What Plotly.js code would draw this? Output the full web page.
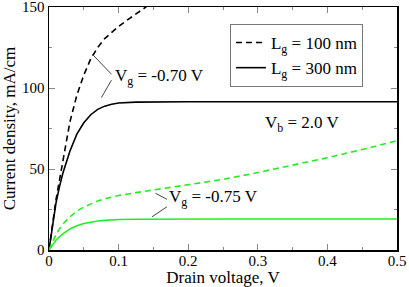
<!DOCTYPE html>
<html>
<head>
<meta charset="utf-8">
<script src="https://cdn.plot.ly/plotly-3.0.1.min.js"></script>
<style>html,body{margin:0;padding:0;background:#fff;}#chart{width:409px;height:287px;}</style>
</head>
<body>
<div id="chart"></div>
<script>
// Drain voltage sample points (V)
var drainV = [0, 0.005, 0.01, 0.015, 0.02, 0.03, 0.04, 0.05, 0.06, 0.07, 0.08, 0.09, 0.1, 0.125, 0.15, 0.175, 0.2, 0.25, 0.3, 0.35, 0.4, 0.45, 0.5];
var drainVShort = [0, 0.005, 0.01, 0.015, 0.02, 0.03, 0.04, 0.05, 0.06, 0.07, 0.08, 0.09, 0.1, 0.11, 0.12, 0.13, 0.14];
// Current density (mA/cm)
var lg300_vg070 = [0, 15, 29, 39, 47.5, 61, 71.5, 78.5, 83.5, 86.8, 88.8, 90, 90.7, 91.3, 91.5, 91.5, 91.5, 91.5, 91.5, 91.5, 91.5, 91.5, 91.5];
var lg100_vg070 = [0, 16, 31, 43, 55, 79, 95.5, 108, 118, 125, 130.5, 134.5, 138, 141.2, 144.3, 147.3, 150.2];
var lg100_vg075 = [0, 5, 9.5, 13, 16, 20.5, 24, 26.5, 28.5, 30.2, 31.6, 32.7, 33.6, 35.4, 37, 38.5, 40, 43.6, 47.8, 52.3, 57, 62, 67.5];
var lg300_vg075 = [0, 3.2, 6, 8.2, 10, 13, 15, 16.4, 17.3, 17.9, 18.3, 18.6, 18.8, 19, 19.1, 19.1, 19.1, 19.1, 19.1, 19.1, 19.1, 19.1, 19.1];

var xTickVals = [0, 0.1, 0.2, 0.3, 0.4, 0.5];
var xTickText = ["0", "0.1", "0.2", "0.3", "0.4", "0.5"];
var yTickVals = [0, 50, 100, 150];
var yTickText = ["0", "50", "100", "150"];

var legendNames = ["L<sub>g</sub> = 100 nm", "L<sub>g</sub> = 300 nm"];
var xTitle = "Drain voltage, V";
var yTitle = "Current density, mA/cm";
var labelVg070 = "V<sub>g</sub> = -0.70 V";
var labelVb = "V<sub>b</sub> = 2.0 V";
var labelVg075 = "V<sub>g</sub> = -0.75 V";

var serif = "Liberation Serif";
var GREEN = "#22ee22";
var DASH = "6px,4px";

var traces = [
  {x: drainVShort, y: lg100_vg070, mode: "lines", name: legendNames[0],
   line: {color: "black", width: 1.6, dash: DASH}},
  {x: drainV, y: lg300_vg070, mode: "lines", name: legendNames[1],
   line: {color: "black", width: 1.6}},
  {x: drainV, y: lg100_vg075, mode: "lines", showlegend: false,
   line: {color: GREEN, width: 1.6, dash: DASH}},
  {x: drainV, y: lg300_vg075, mode: "lines", showlegend: false,
   line: {color: GREEN, width: 1.6}}
];

var layout = {
  width: 409, height: 287,
  margin: {l: 49, r: 12, t: 7, b: 37},
  paper_bgcolor: "white", plot_bgcolor: "white",
  font: {family: serif, size: 15, color: "black"},
  xaxis: {
    range: [0, 0.5], tickmode: "array", tickvals: xTickVals, ticktext: xTickText,
    showgrid: false, zeroline: false, showline: true, linecolor: "black", linewidth: 1.5,
    mirror: "allticks", ticks: "inside", ticklen: 6, tickcolor: "#888", tickwidth: 1,
    ticklabeloverflow: "allow", ticklabelstandoff: -4,
    tickfont: {family: serif, size: 15, color: "black"},
    minor: {dtick: 0.05, tick0: 0, ticks: "inside", ticklen: 3, tickcolor: "#888"},
    title: {text: xTitle, font: {family: serif, size: 17, color: "black"}}
  },
  yaxis: {
    range: [0, 150], tickmode: "array", tickvals: yTickVals, ticktext: yTickText,
    showgrid: false, zeroline: false, showline: true, linecolor: "black", linewidth: 1.5,
    mirror: "allticks", ticks: "inside", ticklen: 6, tickcolor: "#888", tickwidth: 1,
    ticklabeloverflow: "allow",
    tickfont: {family: serif, size: 15, color: "black"},
    minor: {dtick: 25, tick0: 0, ticks: "inside", ticklen: 3, tickcolor: "#888"},
    title: {text: yTitle, font: {family: serif, size: 17, color: "black"}}
  },
  showlegend: true,
  legend: {x: 0.52, y: 0.93, xanchor: "left", yanchor: "top",
    bordercolor: "#777", borderwidth: 1, bgcolor: "white",
    itemwidth: 30, font: {family: serif, size: 17, color: "black"}, tracegroupgap: 0},
  annotations: [
    {x: 0.0915, y: 106.7, xref: "x", yref: "y", xanchor: "left", yanchor: "middle", showarrow: false,
     text: labelVg070, font: {family: serif, size: 17, color: "black"}},
    {x: 0.307, y: 77.7, xref: "x", yref: "y", xanchor: "left", yanchor: "middle", showarrow: false,
     text: labelVb, font: {family: serif, size: 17, color: "black"}},
    {x: 0.169, y: 32, xref: "x", yref: "y", xanchor: "left", yanchor: "middle", showarrow: false,
     text: labelVg075, font: {family: serif, size: 17, color: "black"}}
  ],
  shapes: [
    {type: "line", xref: "x", yref: "y", x0: 0.0624, y0: 120.8, x1: 0.0897, y1: 108.5, line: {color: "#444", width: 1}},
    {type: "line", xref: "x", yref: "y", x0: 0.0753, y0: 94.1, x1: 0.0897, y1: 104.8, line: {color: "#444", width: 1}},
    {type: "line", xref: "x", yref: "y", x0: 0.153, y0: 35.0, x1: 0.1695, y1: 31.3, line: {color: "#444", width: 1}},
    {type: "line", xref: "x", yref: "y", x0: 0.148, y0: 20.5, x1: 0.1695, y1: 26.7, line: {color: "#444", width: 1}}
  ]
};

Plotly.newPlot("chart", traces, layout, {staticPlot: true, displayModeBar: false});
</script>
</body>
</html>
